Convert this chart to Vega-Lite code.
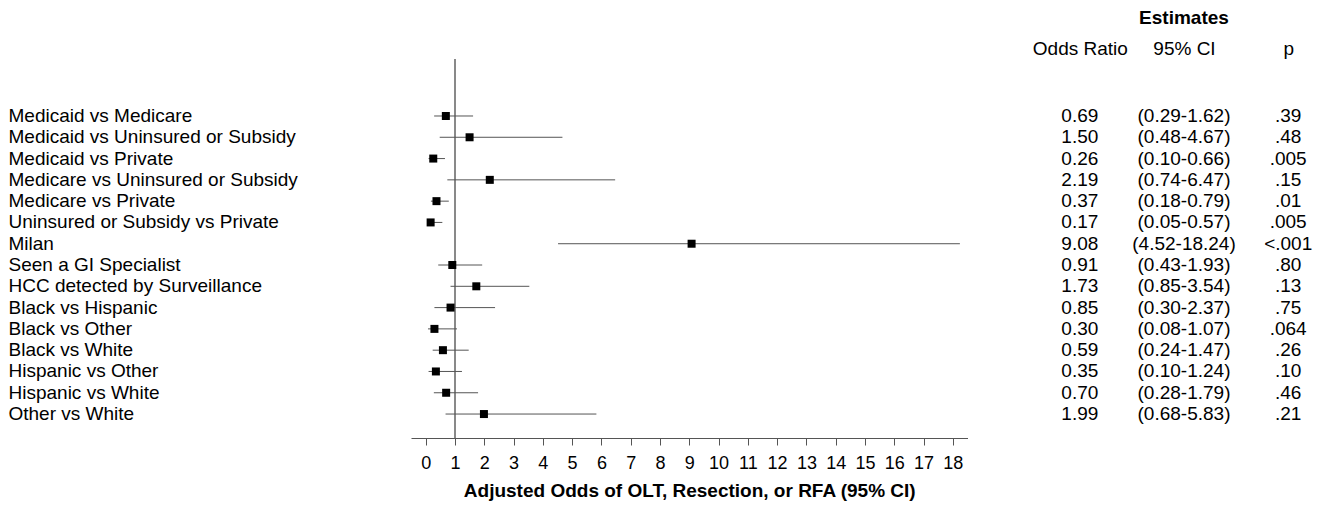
{
  "$schema": "https://vega.github.io/schema/vega-lite/v6.json",
  "padding": {"left": 8, "top": 9, "right": 5, "bottom": 5},
  "background": "white",
  "bounds": "flush",
  "spacing": 91,
  "config": {
    "view": {"stroke": null},
    "font": "Liberation Sans",
    "axis": {"labelColor": "black", "titleColor": "black", "grid": false}
  },
  "data": {
    "values": [
      {"label": "Medicaid vs Medicare", "or": 0.69, "lo": 0.29, "hi": 1.62, "ORt": "0.69", "CIt": "(0.29-1.62)", "pt": ".39"},
      {"label": "Medicaid vs Uninsured or Subsidy", "or": 1.50, "lo": 0.48, "hi": 4.67, "ORt": "1.50", "CIt": "(0.48-4.67)", "pt": ".48"},
      {"label": "Medicaid vs Private", "or": 0.26, "lo": 0.10, "hi": 0.66, "ORt": "0.26", "CIt": "(0.10-0.66)", "pt": ".005"},
      {"label": "Medicare vs Uninsured or Subsidy", "or": 2.19, "lo": 0.74, "hi": 6.47, "ORt": "2.19", "CIt": "(0.74-6.47)", "pt": ".15"},
      {"label": "Medicare vs Private", "or": 0.37, "lo": 0.18, "hi": 0.79, "ORt": "0.37", "CIt": "(0.18-0.79)", "pt": ".01"},
      {"label": "Uninsured or Subsidy vs Private", "or": 0.17, "lo": 0.05, "hi": 0.57, "ORt": "0.17", "CIt": "(0.05-0.57)", "pt": ".005"},
      {"label": "Milan", "or": 9.08, "lo": 4.52, "hi": 18.24, "ORt": "9.08", "CIt": "(4.52-18.24)", "pt": "<.001"},
      {"label": "Seen a GI Specialist", "or": 0.91, "lo": 0.43, "hi": 1.93, "ORt": "0.91", "CIt": "(0.43-1.93)", "pt": ".80"},
      {"label": "HCC detected by Surveillance", "or": 1.73, "lo": 0.85, "hi": 3.54, "ORt": "1.73", "CIt": "(0.85-3.54)", "pt": ".13"},
      {"label": "Black vs Hispanic", "or": 0.85, "lo": 0.30, "hi": 2.37, "ORt": "0.85", "CIt": "(0.30-2.37)", "pt": ".75"},
      {"label": "Black vs Other", "or": 0.30, "lo": 0.08, "hi": 1.07, "ORt": "0.30", "CIt": "(0.08-1.07)", "pt": ".064"},
      {"label": "Black vs White", "or": 0.59, "lo": 0.24, "hi": 1.47, "ORt": "0.59", "CIt": "(0.24-1.47)", "pt": ".26"},
      {"label": "Hispanic vs Other", "or": 0.35, "lo": 0.10, "hi": 1.24, "ORt": "0.35", "CIt": "(0.10-1.24)", "pt": ".10"},
      {"label": "Hispanic vs White", "or": 0.70, "lo": 0.28, "hi": 1.79, "ORt": "0.70", "CIt": "(0.28-1.79)", "pt": ".46"},
      {"label": "Other vs White", "or": 1.99, "lo": 0.68, "hi": 5.83, "ORt": "1.99", "CIt": "(0.68-5.83)", "pt": ".21"}
    ]
  },
  "resolve": {"scale": {"x": "independent", "y": "independent"}},
  "hconcat": [
    {
      "width": 556.5,
      "height": 379,
      "encoding": {
        "y": {
          "field": "label", "type": "nominal",
          "scale": {
            "type": "band", "paddingInner": 0, "paddingOuter": 0.901, "align": 0.653,
            "domain": ["", "Medicaid vs Medicare", "Medicaid vs Uninsured or Subsidy", "Medicaid vs Private", "Medicare vs Uninsured or Subsidy", "Medicare vs Private", "Uninsured or Subsidy vs Private", "Milan", "Seen a GI Specialist", "HCC detected by Surveillance", "Black vs Hispanic", "Black vs Other", "Black vs White", "Hispanic vs Other", "Hispanic vs White", "Other vs White"]
          },
          "axis": {"title": null, "labelAlign": "left", "labelPadding": 403, "ticks": false, "tickSize": 0, "domain": false, "labelFontSize": 19, "labelLimit": 0}
        }
      },
      "layer": [
        {
          "mark": {"type": "rule", "color": "#8a8a8a", "strokeWidth": 1},
          "encoding": {
            "x": {
              "datum": 1, "type": "quantitative",
              "scale": {"domain": [-0.5, 18.5], "nice": false, "zero": false},
              "axis": {
                "title": "Adjusted Odds of OLT, Resection, or RFA (95% CI)",
                "values": [0,1,2,3,4,5,6,7,8,9,10,11,12,13,14,15,16,17,18],
                "labelOverlap": false,
                "tickSize": 7, "domainColor": "#555555", "tickColor": "#555555",
                "labelFontSize": 18, "labelPadding": 9, "labelFlush": false,
                "titleFontSize": 19, "titleFontWeight": "bold", "titlePadding": 9
              }
            },
            "y": null
          }
        },
        {
          "mark": {"type": "rule", "color": "#555555", "strokeWidth": 1},
          "encoding": {
            "x": {
              "field": "lo", "type": "quantitative",
              "axis": {
                "title": "Adjusted Odds of OLT, Resection, or RFA (95% CI)",
                "values": [0,1,2,3,4,5,6,7,8,9,10,11,12,13,14,15,16,17,18],
                "labelOverlap": false
              }
            },
            "x2": {"field": "hi"}
          }
        },
        {
          "mark": {"type": "square", "size": 64, "filled": true, "color": "black", "opacity": 1},
          "encoding": {
            "x": {
              "field": "or", "type": "quantitative",
              "axis": {
                "title": "Adjusted Odds of OLT, Resection, or RFA (95% CI)",
                "values": [0,1,2,3,4,5,6,7,8,9,10,11,12,13,14,15,16,17,18],
                "labelOverlap": false
              }
            }
          }
        }
      ]
    },
    {
      "width": 250,
      "height": 379,
      "title": {"text": "Estimates", "fontSize": 19, "fontWeight": "bold", "offset": 11, "anchor": "middle", "color": "black"},
      "transform": [{"fold": ["ORt", "CIt", "pt"], "as": ["col", "val"]}],
      "mark": {"type": "text", "fontSize": 19, "color": "black"},
      "encoding": {
        "y": {
          "field": "label", "type": "nominal",
          "scale": {
            "type": "band", "paddingInner": 0, "paddingOuter": 0.901, "align": 0.653,
            "domain": ["", "Medicaid vs Medicare", "Medicaid vs Uninsured or Subsidy", "Medicaid vs Private", "Medicare vs Uninsured or Subsidy", "Medicare vs Private", "Uninsured or Subsidy vs Private", "Milan", "Seen a GI Specialist", "HCC detected by Surveillance", "Black vs Hispanic", "Black vs Other", "Black vs White", "Hispanic vs Other", "Hispanic vs White", "Other vs White"]
          },
          "axis": null
        },
        "x": {
          "field": "col", "type": "nominal", "sort": ["ORt", "CIt", "pt"],
          "scale": {"type": "point", "padding": 0.2},
          "axis": {
            "orient": "top", "title": null, "domain": false, "ticks": false, "tickSize": 0,
            "labelPadding": 1, "labelFontSize": 19, "labelAngle": 0,
            "labelExpr": "datum.value == 'ORt' ? 'Odds Ratio' : datum.value == 'CIt' ? '95% CI' : 'p'"
          }
        },
        "text": {"field": "val"}
      }
    }
  ]
}
